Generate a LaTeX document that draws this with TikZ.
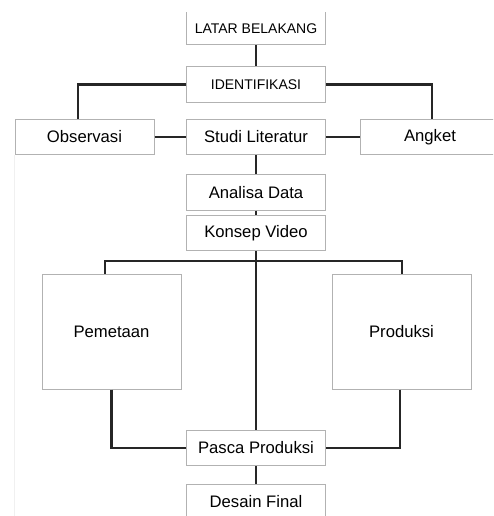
\documentclass[tikz,border=0pt]{standalone}
\usepackage{fontspec}
\setmainfont{Liberation Sans}
\usepackage{tikz}
\usetikzlibrary{calc,positioning}
\tikzset{
%Define style for the boxes
box/.style={draw=black!30, line width=0.75pt, fill=white, minimum width=104.25pt,
  minimum height=26.5pt, inner sep=0pt, font=\fontsize{12.5}{14}\selectfont},
capsbox/.style={box, font=\fontsize{10.5}{12}\selectfont},
bigbox/.style={box, minimum height=86.25pt},
%Define style for the connections
connection/.style={line width=1.8pt, draw=black!85},
}

\begin{document}
\begin{tikzpicture}[x=0.75pt, y=-0.75pt]
    \useasboundingbox (0,0) rectangle (493,516);
    \clip (0,12.5) rectangle (493,516);
    %Boxes of the middle column
    \node[capsbox, minimum height=24.75pt] (latar) at (256,28.5) {LATAR BELAKANG};
    \node[capsbox] (ident) at (256,84.5) {IDENTIFIKASI};
    \node[box] (studi) at (256,137) {Studi Literatur};
    \node[box] (analisa) at (256,192.5) {Analisa Data};
    \node[box] (konsep) at (256,233) {Konsep Video};
    \node[box] (pasca) at (256,448) {Pasca Produksi};
    \node[box] (desain) at (256,502) {Desain Final};
    %Boxes on the sides, the text of the left ones sits off centre
    \node[box] (obs) at (84.5,137) {Observasi\hspace{9pt}};
    \node[box] (angket) at (430,137) {Angket};
    \node[bigbox] (pem) at (111.5,331.5) {Pemetaan\hspace{9.75pt}};
    \node[bigbox] (prod) at (401.5,331.5) {Produksi};
    %faint edge of the page
    \draw[black!6, line width=0.75pt] (obs.south west) -- ++(0,380);
    %Connections from the top
    \draw[connection] (latar.south) -- (ident.north);
    \draw[connection] (ident.west) -| ($(obs.north)+(-6.5,0)$);
    \draw[connection] (ident.east) -| ($(angket.north)+(2,0)$);
    \draw[connection] (obs.east) -- (studi.west);
    \draw[connection] (studi.east) -- (angket.west);
    \draw[connection] (studi.south) -- (analisa.north);
    \draw[connection] (analisa.south) -- (konsep.north);
    %The split below Konsep Video
    \coordinate (split) at (256,261);
    \draw[connection] (konsep.south) -- (pasca.north);
    \draw[connection] ($(pem.north)+(-6.5,0)$) |- (split) -| ($(prod.north)+(0.5,0)$);
    %Back together in Pasca Produksi
    \draw[connection] (pem.south) |- (pasca.west);
    \draw[connection] ($(prod.south)+(-1.5,0)$) |- (pasca.east);
    \draw[connection] (pasca.south) -- (desain.north);
\end{tikzpicture}
\end{document}
